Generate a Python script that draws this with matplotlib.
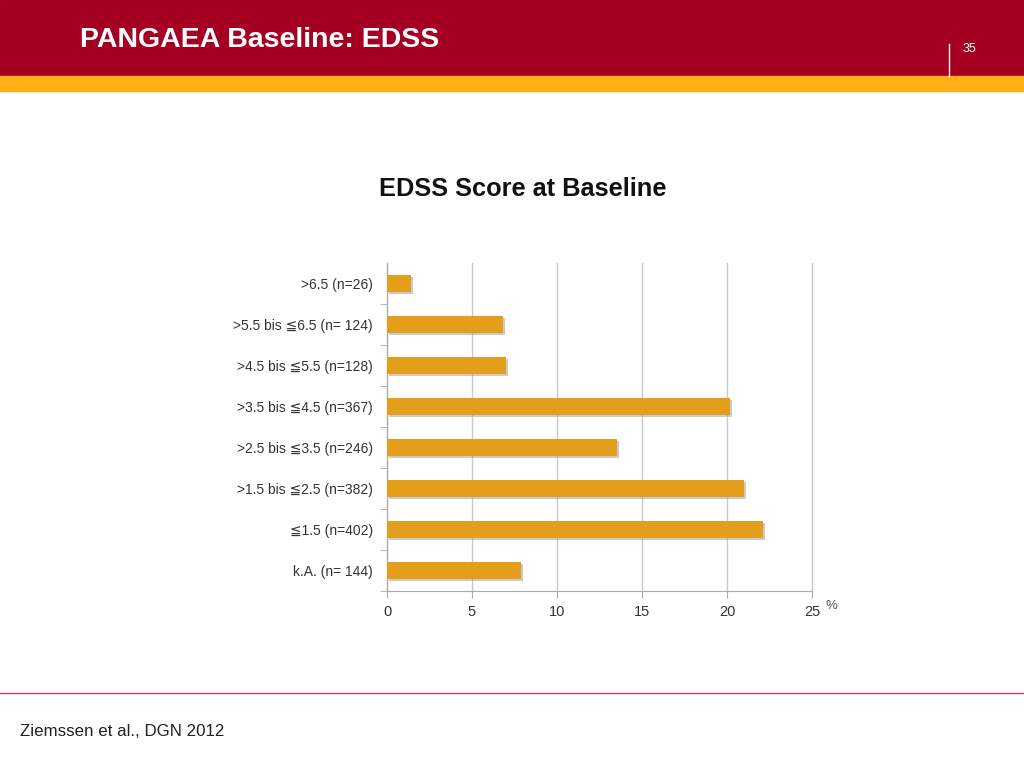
import matplotlib
matplotlib.use("Agg")
import matplotlib.pyplot as plt
import matplotlib.patheffects as pe
import numpy as np

plt.rcParams['font.family'] = ['Liberation Sans', 'DejaVu Sans']

# EDSS categories, top to bottom as shown
categories = [">6.5 (n=26)", ">5.5 bis \u22666.5 (n= 124)", ">4.5 bis \u22665.5 (n=128)",
              ">3.5 bis \u22664.5 (n=367)", ">2.5 bis \u22663.5 (n=246)",
              ">1.5 bis \u22662.5 (n=382)", "\u22661.5 (n=402)", "k.A. (n= 144)"]
percent = [1.4, 6.8, 7.0, 20.2, 13.5, 21.0, 22.1, 7.9]
xticks = [0, 5, 10, 15, 20, 25]

RED = "#A50021"
GOLD = "#FDB116"
BAR = "#E39F1C"

fig = plt.figure(figsize=(10.24, 7.68), dpi=100)

# header bands
fig.patches.append(plt.Rectangle((0, 1 - 76 / 768), 1, 76 / 768, transform=fig.transFigure,
                                 color=RED, zorder=0))
fig.patches.append(plt.Rectangle((0, 1 - 91 / 768), 1, 15 / 768, transform=fig.transFigure,
                                 color=GOLD, zorder=0))
fig.text(80 / 1024, 1 - 40 / 768, "PANGAEA Baseline: EDSS", color="white", fontsize=20.5,
         fontweight="bold", va="center", ha="left")
fig.add_artist(plt.Line2D([949 / 1024, 949 / 1024], [1 - 44 / 768, 1 - 76 / 768],
                          transform=fig.transFigure, color="white", lw=1))
fig.text(963 / 1024, 1 - 49 / 768, "35", color="white", fontsize=9, va="center", ha="left")

# footer
fig.add_artist(plt.Line2D([0, 1], [1 - 693 / 768, 1 - 693 / 768], transform=fig.transFigure,
                          color="#B5435E", lw=1))
fig.text(20 / 1024, 1 - 732 / 768, "Ziemssen et al., DGN 2012", color="#222222", fontsize=12.2,
         va="center", ha="left")

fig.text(523 / 1024, 1 - 189 / 768, "EDSS Score at Baseline", color="#111111", fontsize=18.3,
         fontweight="bold", va="center", ha="center")

ax = fig.add_axes([387 / 1024, 1 - 591 / 768, 425 / 1024, 328 / 768])
y = np.arange(len(categories))
ax.barh(y, percent, height=0.4, color=BAR, zorder=3,
        path_effects=[pe.SimplePatchShadow(offset=(1.5, -1.5), shadow_rgbFace="#999999", alpha=0.5),
                      pe.Normal()])
ax.set_ylim(len(categories) - 0.5, -0.5)
ax.set_xlim(0, 25)
ax.set_xticks(xticks)
ax.set_xticklabels([str(t) for t in xticks])
ax.set_yticks(y)
ax.set_yticklabels(categories)
ax.set_yticks(np.arange(0.5, len(categories), 1), minor=True)
ax.tick_params(axis="y", which="major", length=0, pad=10, labelsize=10, labelcolor="#333333")
ax.tick_params(axis="y", which="minor", length=5, color="#AAAAAA", direction="out")
ax.tick_params(axis="x", length=5, color="#AAAAAA", labelsize=10.5, labelcolor="#333333", pad=5)
ax.grid(axis="x", color="#C8C8C8", lw=1, zorder=0)
for gl in ax.get_xgridlines():
    gl.set_clip_on(False)
for s in ["top", "right"]:
    ax.spines[s].set_visible(False)
for s in ["left", "bottom"]:
    ax.spines[s].set_color("#AAAAAA")
ax.text(1.045, -0.045, "%", transform=ax.transAxes, fontsize=9.5, color="#555555",
        ha="center", va="center")

fig.savefig("out.png", dpi=100)
